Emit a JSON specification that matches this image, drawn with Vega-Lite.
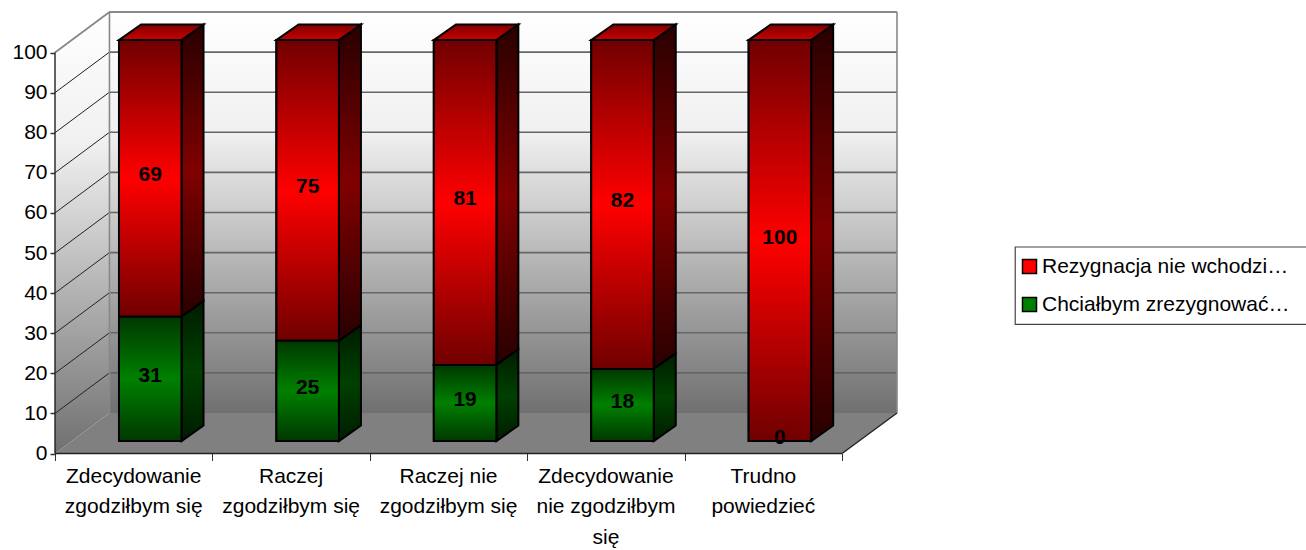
{
"$schema":"https://vega.github.io/schema/vega-lite/v6.json",
"width":842,"height":441.5,
"autosize":{"type":"none"},
"padding":{"left":55,"top":12,"right":409,"bottom":96.5},
"background":"white",
"config":{"view":{"stroke":null},"text":{"font":"Liberation Sans"},"axis":{"labelFont":"Liberation Sans"},"legend":{"labelFont":"Liberation Sans"}},
"datasets":{
"bars":[
{"i":0,"series":"Chciałbym zrezygnować…","low":0,"high":31,"value":31},
{"i":0,"series":"Rezygnacja nie wchodzi…","low":31,"high":100,"value":69},
{"i":1,"series":"Chciałbym zrezygnować…","low":0,"high":25,"value":25},
{"i":1,"series":"Rezygnacja nie wchodzi…","low":25,"high":100,"value":75},
{"i":2,"series":"Chciałbym zrezygnować…","low":0,"high":19,"value":19},
{"i":2,"series":"Rezygnacja nie wchodzi…","low":19,"high":100,"value":81},
{"i":3,"series":"Chciałbym zrezygnować…","low":0,"high":18,"value":18},
{"i":3,"series":"Rezygnacja nie wchodzi…","low":18,"high":100,"value":82},
{"i":4,"series":"Chciałbym zrezygnować…","low":0,"high":0,"value":0},
{"i":4,"series":"Rezygnacja nie wchodzi…","low":0,"high":100,"value":100}
],
"cats":[
{"i":0.5,"label":["Zdecydowanie","zgodziłbym się"]},
{"i":1.5,"label":["Raczej","zgodziłbym się"]},
{"i":2.5,"label":["Raczej nie","zgodziłbym się"]},
{"i":3.5,"label":["Zdecydowanie","nie zgodziłbym","się"]},
{"i":4.5,"label":["Trudno","powiedzieć"]}
],
"ticks":[{"v":10},{"v":20},{"v":30},{"v":40},{"v":50},{"v":60},{"v":70},{"v":80},{"v":90},{"v":100}]
},
"layer":[
{"data":{"values":[{"x0":0.346,"x1":5.349,"y0":10.1,"y1":110.1}]},
 "mark":{"type":"rect","fill":{"gradient":"linear","x1":0,"y1":0,"x2":0,"y2":1,"stops":[{"offset":0,"color":"#ffffff"},{"offset":0.3,"color":"#f0f0f0"},{"offset":1,"color":"#707070"}]}},
 "encoding":{"x":{"field":"x0","type":"quantitative","scale":{"domain":[0,5.349],"nice":false,"zero":false},
   "axis":{"values":[0,1,2,3,4,5],"labels":false,"title":null,"domain":false,"grid":false,"tickSize":7,"tickColor":"#333333","tickWidth":1}},
  "x2":{"field":"x1"},
  "y":{"field":"y0","type":"quantitative","scale":{"domain":[0,110.1],"nice":false,"zero":false},
   "axis":{"values":[0,10,20,30,40,50,60,70,80,90,100],"title":null,"domain":false,"grid":false,"tickSize":5,"tickColor":"#333333","tickWidth":1.5,"labelFontSize":21,"labelColor":"#000000","labelPadding":3}},
  "y2":{"field":"y1"}}},
{"data":{"values":[{"x0":6.1,"x1":8.3,"y0":32.2,"y1":51.5}]},
 "mark":{"type":"rect","fill":"#ffffff","stroke":"#444444","strokeWidth":1.2},
 "encoding":{"x":{"field":"x0","type":"quantitative"},"x2":{"field":"x1"},"y":{"field":"y0","type":"quantitative"},"y2":{"field":"y1"}}},
{"data":{"values":[{"x":0,"lo":0,"hi":100},{"x":0.346,"lo":10.1,"hi":110.1}]},
 "mark":{"type":"area","fill":{"gradient":"linear","x1":0,"y1":0,"x2":0,"y2":1,"stops":[{"offset":0,"color":"#ffffff"},{"offset":0.3,"color":"#f0f0f0"},{"offset":1,"color":"#707070"}]}},
 "encoding":{"x":{"field":"x","type":"quantitative"},"y":{"field":"lo","type":"quantitative"},"y2":{"field":"hi"}}},
{"data":{"values":[{"y":0,"a":0,"b":5},{"y":10.1,"a":0.346,"b":5.349}]},
 "mark":{"type":"area","orient":"horizontal","fill":"#808080"},
 "encoding":{"y":{"field":"y","type":"quantitative"},"x":{"field":"a","type":"quantitative"},"x2":{"field":"b"}}},
{"data":{"name":"ticks"},"transform":[{"calculate":"datum.v+10.1","as":"yb"},{"calculate":"0.346","as":"xa"},{"calculate":"5.349","as":"xb"}],
 "mark":{"type":"rule","color":"#666666","strokeWidth":1.6},
 "encoding":{"x":{"field":"xa","type":"quantitative"},"x2":{"field":"xb"},"y":{"field":"yb","type":"quantitative"}}},
{"data":{"name":"ticks"},"transform":[{"calculate":"datum.v+10.1","as":"yb"},{"calculate":"0","as":"xa"},{"calculate":"0.346","as":"xb"}],
 "mark":{"type":"rule","color":"#222222","strokeWidth":1},
 "encoding":{"x":{"field":"xa","type":"quantitative"},"x2":{"field":"xb"},"y":{"field":"v","type":"quantitative"},"y2":{"field":"yb"}}},
{"data":{"values":[{"xa":0.346,"xb":0.346,"ya":10.1,"yb":110.1},{"xa":5.349,"xb":5.349,"ya":10.1,"yb":110.1},{"xa":0,"xb":0.346,"ya":100,"yb":110.1},{"xa":0.346,"xb":5.349,"ya":110.1,"yb":110.1}]},
 "mark":{"type":"rule","color":"#888888","strokeWidth":1.6},
 "encoding":{"x":{"field":"xa","type":"quantitative"},"x2":{"field":"xb"},"y":{"field":"ya","type":"quantitative"},"y2":{"field":"yb"}}},
{"data":{"values":[{"xa":0,"xb":0,"ya":0,"yb":100},{"xa":0,"xb":5,"ya":0,"yb":0},{"xa":5,"xb":5.349,"ya":0,"yb":10.1}]},
 "mark":{"type":"rule","color":"#222222","strokeWidth":1.4},
 "encoding":{"x":{"field":"xa","type":"quantitative"},"x2":{"field":"xb"},"y":{"field":"ya","type":"quantitative"},"y2":{"field":"yb"}}},
{"data":{"name":"bars"},
 "transform":[{"filter":"datum.series[0]=='R'"},{"calculate":"[0,1]","as":"t"},{"flatten":["t"]},{"calculate":"datum.i+0.8035+datum.t*0.14","as":"sx"},{"calculate":"datum.low+3.1+datum.t*3.87","as":"sl"},{"calculate":"datum.high+3.1+datum.t*3.87","as":"sh"}],
 "mark":{"type":"area","stroke":"#000000","strokeWidth":2,"fill":{"gradient":"linear","x1":0,"y1":0,"x2":0,"y2":1,"stops":[{"offset":0,"color":"#280000"},{"offset":0.5,"color":"#800000"},{"offset":1,"color":"#280000"}]}},
 "encoding":{"x":{"field":"sx","type":"quantitative"},"y":{"field":"sl","type":"quantitative"},"y2":{"field":"sh"},"detail":{"field":"i"}}},
{"data":{"name":"bars"},
 "transform":[{"filter":"datum.series[0]=='C' && datum.value>0"},{"calculate":"[0,1]","as":"t"},{"flatten":["t"]},{"calculate":"datum.i+0.8035+datum.t*0.14","as":"sx"},{"calculate":"datum.low+3.1+datum.t*3.87","as":"sl"},{"calculate":"datum.high+3.1+datum.t*3.87","as":"sh"}],
 "mark":{"type":"area","stroke":"#000000","strokeWidth":2,"fill":{"gradient":"linear","x1":0,"y1":0,"x2":0,"y2":1,"stops":[{"offset":0,"color":"#001c00"},{"offset":0.5,"color":"#004000"},{"offset":1,"color":"#001c00"}]}},
 "encoding":{"x":{"field":"sx","type":"quantitative"},"y":{"field":"sl","type":"quantitative"},"y2":{"field":"sh"},"detail":{"field":"i"}}},
{"data":{"name":"bars"},
 "transform":[{"filter":"datum.high==100"},{"calculate":"[0,1]","as":"t"},{"flatten":["t"]},{"calculate":"datum.i+0.4065+datum.t*0.14","as":"ta"},{"calculate":"datum.i+0.8035+datum.t*0.14","as":"tb"},{"calculate":"datum.high+3.1+datum.t*3.87","as":"ty"}],
 "mark":{"type":"area","orient":"horizontal","stroke":"#000000","strokeWidth":2,"fill":{"gradient":"linear","x1":0,"y1":1,"x2":0,"y2":0,"stops":[{"offset":0,"color":"#c80000"},{"offset":1,"color":"#800000"}]}},
 "encoding":{"y":{"field":"ty","type":"quantitative"},"x":{"field":"ta","type":"quantitative"},"x2":{"field":"tb"},"detail":{"field":"i"}}},
{"data":{"name":"bars"},
 "transform":[{"calculate":"datum.i+0.4065","as":"fa"},{"calculate":"datum.i+0.8035","as":"fb"},{"calculate":"datum.low+3.1","as":"fl"},{"calculate":"datum.high+3.1","as":"fh"}],
 "mark":{"type":"rect","stroke":"#000000","strokeWidth":2},
 "encoding":{"x":{"field":"fa","type":"quantitative"},"x2":{"field":"fb"},"y":{"field":"fl","type":"quantitative"},"y2":{"field":"fh"},
  "fill":{"field":"series","type":"nominal","scale":{"domain":["Rezygnacja nie wchodzi…","Chciałbym zrezygnować…"],"range":["#ff0000","#008000"]},
   "legend":{"title":null,"orient":"none","legendX":960,"legendY":235,"padding":9,"symbolType":"square","symbolSize":196,"symbolOffset":-5,"labelFontSize":21,"labelColor":"#000000","labelLimit":340,"rowPadding":16,"labelOffset":2,
    "encode":{"symbols":{"stroke":"#222222","strokeWidth":1.5}}}}}},
{"data":{"name":"bars"},
 "transform":[{"filter":"datum.series[0]=='R'"},{"calculate":"datum.i+0.4065","as":"fa"},{"calculate":"datum.i+0.8035","as":"fb"},{"calculate":"datum.low+3.1","as":"fl"},{"calculate":"datum.high+3.1","as":"fh"}],
 "mark":{"type":"rect","stroke":"#000000","strokeWidth":2,"fill":{"gradient":"linear","x1":0,"y1":0,"x2":0,"y2":1,"stops":[{"offset":0,"color":"#700000"},{"offset":0.5,"color":"#ff0000"},{"offset":1,"color":"#700000"}]}},
 "encoding":{"x":{"field":"fa","type":"quantitative"},"x2":{"field":"fb"},"y":{"field":"fl","type":"quantitative"},"y2":{"field":"fh"}}},
{"data":{"name":"bars"},
 "transform":[{"filter":"datum.series[0]=='C' && datum.value>0"},{"calculate":"datum.i+0.4065","as":"fa"},{"calculate":"datum.i+0.8035","as":"fb"},{"calculate":"datum.low+3.1","as":"fl"},{"calculate":"datum.high+3.1","as":"fh"}],
 "mark":{"type":"rect","stroke":"#000000","strokeWidth":2,"fill":{"gradient":"linear","x1":0,"y1":0,"x2":0,"y2":1,"stops":[{"offset":0,"color":"#003800"},{"offset":0.5,"color":"#008000"},{"offset":1,"color":"#003800"}]}},
 "encoding":{"x":{"field":"fa","type":"quantitative"},"x2":{"field":"fb"},"y":{"field":"fl","type":"quantitative"},"y2":{"field":"fh"}}},
{"data":{"name":"bars"},
 "transform":[{"calculate":"datum.i+0.605","as":"lx"},{"calculate":"(datum.low+datum.high)/2+3.85","as":"ly"},{"calculate":"''+datum.value","as":"lt"}],
 "mark":{"type":"text","fontSize":21,"fontWeight":"bold","color":"#000000","baseline":"middle","align":"center"},
 "encoding":{"x":{"field":"lx","type":"quantitative"},"y":{"field":"ly","type":"quantitative"},"text":{"field":"lt"}}},
{"data":{"name":"cats"},
 "transform":[{"calculate":"0","as":"y0"}],
 "mark":{"type":"text","fontSize":21,"color":"#000000","baseline":"top","align":"center","dy":12,"lineHeight":30.5},
 "encoding":{"x":{"field":"i","type":"quantitative"},"y":{"field":"y0","type":"quantitative"},"text":{"field":"label"}}}
]
}
